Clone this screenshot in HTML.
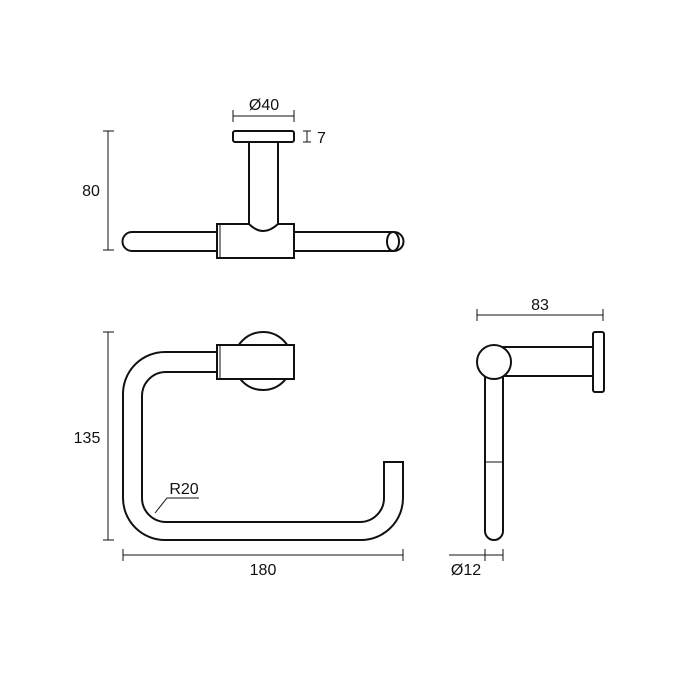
<!DOCTYPE html>
<html><head><style>body{margin:0;background:#fff}svg{display:block}</style></head>
<body>
<svg width="675" height="675" viewBox="0 0 675 675" xmlns="http://www.w3.org/2000/svg" font-family="Liberation Sans, Arial, sans-serif" font-size="16" fill="none" stroke="#111">
<!-- TOP VIEW -->
<g stroke-width="1">
<line x1="233" y1="116" x2="294" y2="116"/><line x1="233" y1="110" x2="233" y2="122"/><line x1="294" y1="110" x2="294" y2="122"/>
<line x1="103" y1="131" x2="114" y2="131"/><line x1="103" y1="250" x2="114" y2="250"/><line x1="108" y1="131" x2="108" y2="250"/>
<line x1="303" y1="131" x2="311" y2="131"/><line x1="303" y1="142" x2="311" y2="142"/><line x1="307" y1="131" x2="307" y2="142"/>
</g>
<g fill="#111" stroke="none">
<text x="264" y="110" text-anchor="middle">Ø40</text>
<text x="317" y="143">7</text>
<text x="91" y="196" text-anchor="middle">80</text>
</g>
<g stroke-width="2" fill="#fff">
<rect x="233" y="131" width="61" height="11" rx="2"/>
<rect x="249" y="142" width="29" height="90"/>
<path d="M217 232 H132 A9.5 9.5 0 0 0 132 251 H217"/>
<path d="M294 232 H394 A9.5 9.5 0 0 1 394 251 H294"/>
<ellipse cx="393" cy="241.5" rx="6" ry="9.5"/>
<path d="M217 224 H249 Q263 238 278 224 H294 V258 H217 Z"/>
<line x1="220" y1="224" x2="220" y2="258" stroke-width="1"/>
</g>
<!-- FRONT VIEW -->
<g stroke-width="1">
<line x1="103" y1="332" x2="114" y2="332"/><line x1="103" y1="540" x2="114" y2="540"/><line x1="108" y1="332" x2="108" y2="540"/>
<line x1="123" y1="555" x2="403" y2="555"/><line x1="123" y1="549" x2="123" y2="561"/><line x1="403" y1="549" x2="403" y2="561"/>
<polyline points="155,513 167,498 199,498"/>
</g>
<g fill="#111" stroke="none">
<text x="87" y="443" text-anchor="middle">135</text>
<text x="263" y="575" text-anchor="middle">180</text>
<text x="184" y="494" text-anchor="middle">R20</text>
</g>
<g stroke-width="2">
<circle cx="263" cy="361" r="29" fill="#fff"/>
<path d="M217 352 H165 A42 42 0 0 0 123 394 V498 A42 42 0 0 0 165 540 H361 A42 42 0 0 0 403 498 V462 H384 V498 A24 24 0 0 1 360 522 H166 A24 24 0 0 1 142 498 V396 A24 24 0 0 1 166 372 H217" fill="#fff"/>
<rect x="217" y="345" width="77" height="34" fill="#fff"/>
<line x1="220" y1="345" x2="220" y2="379" stroke-width="1"/>
</g>
<!-- SIDE VIEW -->
<g stroke-width="1">
<line x1="477" y1="315" x2="603" y2="315"/><line x1="477" y1="309" x2="477" y2="321"/><line x1="603" y1="309" x2="603" y2="321"/>
<line x1="449" y1="555" x2="503" y2="555"/><line x1="485" y1="549" x2="485" y2="561"/><line x1="503" y1="549" x2="503" y2="561"/>
</g>
<g fill="#111" stroke="none">
<text x="540" y="310" text-anchor="middle">83</text>
<text x="466" y="575" text-anchor="middle">Ø12</text>
</g>
<g stroke-width="2" fill="#fff">
<rect x="496" y="347" width="98" height="29"/>
<rect x="593" y="332" width="11" height="60" rx="2"/>
<path d="M485 376 V531 A9 9 0 0 0 503 531 V376"/>
<line x1="485" y1="462" x2="503" y2="462" stroke-width="1"/>
<circle cx="494" cy="362" r="17"/>
</g>
</svg>
</body></html>
